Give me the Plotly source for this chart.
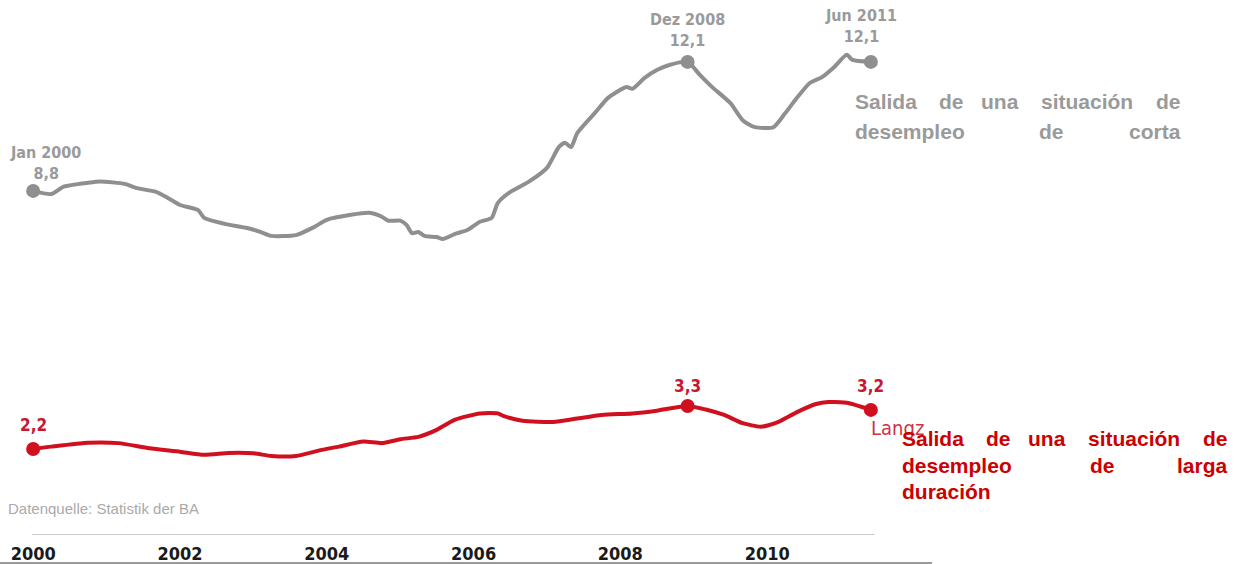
import datetime as dt
import plotly.graph_objects as go

# ---------------- data ----------------
gray_dates = ["2000-01", "2000-04", "2000-06", "2000-10", "2000-12",
              "2001-04", "2001-06", "2001-09", "2001-11",
              "2002-01", "2002-04", "2002-05", "2002-08", "2002-12",
              "2003-02", "2003-04", "2003-08", "2003-11",
              "2004-01", "2004-05", "2004-08", "2004-10", "2004-11",
              "2005-01", "2005-02", "2005-03", "2005-04", "2005-05", "2005-07", "2005-08", "2005-10", "2005-12",
              "2006-02", "2006-04", "2006-05", "2006-07", "2006-10",
              "2007-01", "2007-03", "2007-04", "2007-05", "2007-06", "2007-09", "2007-11",
              "2008-02", "2008-03", "2008-05", "2008-07", "2008-09", "2008-12",
              "2009-02", "2009-04", "2009-07", "2009-09", "2009-11",
              "2010-02", "2010-04", "2010-06", "2010-08", "2010-10", "2010-12",
              "2011-02", "2011-03", "2011-06"]
gray_values = [8.8, 8.72, 8.91, 9.01, 9.04,
               8.98, 8.87, 8.78, 8.62,
               8.44, 8.31, 8.11, 7.97, 7.85,
               7.76, 7.65, 7.67, 7.88,
               8.06, 8.19, 8.24, 8.14, 8.04,
               8.04, 7.93, 7.72, 7.75, 7.65, 7.62, 7.57, 7.70, 7.80,
               8.01, 8.11, 8.49, 8.77, 9.03,
               9.39, 9.92, 10.03, 9.92, 10.28, 10.82, 11.18,
               11.46, 11.41, 11.69, 11.89, 12.02, 12.1,
               11.76, 11.46, 11.05, 10.61, 10.43,
               10.43, 10.79, 11.2, 11.56, 11.71, 11.97,
               12.28, 12.15, 12.1]

red_dates = ["2000-01", "2000-04", "2000-10", "2001-03", "2001-08",
             "2002-01", "2002-05", "2002-09", "2003-01", "2003-04", "2003-08", "2003-12",
             "2004-03", "2004-07", "2004-10", "2005-01", "2005-04", "2005-07", "2005-10",
             "2006-02", "2006-05", "2006-06", "2006-09", "2007-02", "2007-06", "2007-10",
             "2008-03", "2008-07", "2008-12", "2009-03", "2009-06", "2009-09", "2009-12",
             "2010-03", "2010-06", "2010-09", "2010-11", "2011-02", "2011-06"]
red_values = [2.2, 2.26, 2.36, 2.35, 2.22,
              2.13, 2.05, 2.10, 2.09, 2.02, 2.02, 2.17,
              2.26, 2.39, 2.35, 2.45, 2.51, 2.69, 2.95,
              3.11, 3.11, 3.04, 2.92, 2.89, 2.98, 3.07,
              3.11, 3.18, 3.3, 3.21, 3.07, 2.86, 2.77,
              2.90, 3.15, 3.35, 3.40, 3.38, 3.2]

gray_highlight = ["2000-01", "2008-12", "2011-06"]
gray_labels = ["Jan 2000<br>8,8", "Dez 2008<br>12,1", "Jun 2011<br>12,1"]
red_highlight = ["2000-01", "2008-12", "2011-06"]
red_labels = ["2,2", "3,3", "3,2"]

tick_years = [2000, 2002, 2004, 2006, 2008, 2010]
tick_labels = ["2000", "2002", "2004", "2006", "2008", "2010"]

source_text = "Datenquelle: Statistik der BA"
gray_title_lines = [["Salida", "de", "una", "situación", "de"],
                    ["desempleo", "de", "corta"]]
red_title_lines = [["Salida", "de", "una", "situación", "de"],
                   ["desempleo", "de", "larga"],
                   ["duración"]]

# ---------------- style ----------------
W, H = 1239, 564
PLOT_BOTTOM = 535
GRAY_LINE = "#8f8f8f"
GRAY_TEXT = "#9a9a9a"
RED_LINE = "#d0101e"
RED_TEXT = "#cc0000"
LABEL_FONT = "Liberation Sans Narrow, DejaVu Sans Condensed, Liberation Sans, sans-serif"
TEXT_FONT = "Liberation Sans, Arial, sans-serif"


def year_to_date(y):
    year = int(y)
    start = dt.datetime(year, 1, 1)
    end = dt.datetime(year + 1, 1, 1)
    return (start + (end - start) * (y - year)).strftime("%Y-%m-%d")


PX_PER_YEAR = 73.4
X0_PX = 33
x_range = [year_to_date(2000 - X0_PX / PX_PER_YEAR),
           year_to_date(2000 + (W - X0_PX) / PX_PER_YEAR)]
PX_PER_UNIT = 39.1
y_range = [0, PLOT_BOTTOM / PX_PER_UNIT]


def px(x):
    return x / W


def py(y):
    return (PLOT_BOTTOM - y) / PLOT_BOTTOM


def val_at(dates, values, d):
    return values[dates.index(d)]


fig = go.Figure()

fig.add_trace(go.Scatter(x=gray_dates, y=gray_values, mode="lines",
                         line=dict(color=GRAY_LINE, width=4, shape="spline", smoothing=0.6),
                         hoverinfo="skip", showlegend=False))
fig.add_trace(go.Scatter(x=red_dates, y=red_values, mode="lines",
                         line=dict(color=RED_LINE, width=4, shape="spline", smoothing=0.6),
                         hoverinfo="skip", showlegend=False))
fig.add_trace(go.Scatter(x=gray_highlight,
                         y=[val_at(gray_dates, gray_values, d) for d in gray_highlight],
                         mode="markers", marker=dict(color=GRAY_LINE, size=14),
                         hoverinfo="skip", showlegend=False))
fig.add_trace(go.Scatter(x=red_highlight,
                         y=[val_at(red_dates, red_values, d) for d in red_highlight],
                         mode="markers", marker=dict(color=RED_LINE, size=14),
                         hoverinfo="skip", showlegend=False))

annotations = []
# value labels
gray_shifts = [(12, 6), (0, 10), (-10, 14)]
for d, t, (xs, ys) in zip(gray_highlight, gray_labels, gray_shifts):
    annotations.append(dict(x=d, y=val_at(gray_dates, gray_values, d), xref="x", yref="y",
                            text=t, showarrow=False, xanchor="center", yanchor="bottom",
                            xshift=xs, yshift=ys, align="center",
                            font=dict(family=LABEL_FONT, size=16, color=GRAY_TEXT, weight="bold")))
red_shifts = [(0, 12), (0, 8), (0, 12)]
for d, t, (xs, ys) in zip(red_highlight, red_labels, red_shifts):
    annotations.append(dict(x=d, y=val_at(red_dates, red_values, d), xref="x", yref="y",
                            text=t, showarrow=False, xanchor="center", yanchor="bottom",
                            xshift=xs, yshift=ys,
                            font=dict(family=LABEL_FONT, size=17, color="#c8182e", weight="bold")))

# "Langz" fragment
annotations.append(dict(x=px(869), y=py(428), xref="paper", yref="paper", text="Langz",
                        showarrow=False, xanchor="left", yanchor="middle",
                        font=dict(family=LABEL_FONT, size=20, color="#cc3344")))

# source
annotations.append(dict(x=px(6), y=py(508), xref="paper", yref="paper", text=source_text,
                        showarrow=False, xanchor="left", yanchor="middle",
                        font=dict(family=TEXT_FONT, size=15, color="#aaaaaa")))


def justified(lines, left, right, ys, centers, color, size):
    for words, yv, cs in zip(lines, ys, centers):
        for i, w in enumerate(words):
            if i == 0:
                xa, xv = "left", left
            elif i == len(words) - 1:
                xa, xv = "right", right
            else:
                xa, xv = "center", cs[i - 1]
            annotations.append(dict(x=px(xv), y=py(yv), xref="paper", yref="paper", text=w,
                                    showarrow=False, xanchor=xa, yanchor="middle",
                                    font=dict(family=TEXT_FONT, size=size, color=color,
                                              weight="bold")))


justified(gray_title_lines, 853, 1183, [101, 131],
          [[951, 1000, 1087], [1051]], GRAY_TEXT, 21)
justified(red_title_lines, 900, 1230, [438, 465, 491],
          [[998, 1047, 1134], [1102], []], RED_TEXT, 21)

shapes = [
    dict(type="line", xref="x", yref="y", x0="1999-12-25", x1="2011-06-20", y0=0, y1=0,
         line=dict(color="#cccccc", width=2), layer="below"),
    dict(type="line", xref="paper", yref="paper", x0=0, x1=px(932),
         y0=py(563), y1=py(563), line=dict(color="#777777", width=1.5)),
]

fig.update_layout(
    width=W, height=H, autosize=False,
    margin=dict(l=0, r=0, t=0, b=H - PLOT_BOTTOM, pad=0),
    paper_bgcolor="white", plot_bgcolor="white",
    showlegend=False,
    xaxis=dict(type="date", range=x_range, showgrid=False, zeroline=False, showline=False,
               tickvals=[f"{y}-01-01" for y in tick_years], ticktext=tick_labels,
               ticks="", automargin=False, ticklabelstandoff=6,
               tickfont=dict(family=LABEL_FONT, size=18, color="#1a1a1a", weight="bold")),
    yaxis=dict(range=y_range, visible=False, fixedrange=True),
    annotations=annotations,
    shapes=shapes,
)

fig.write_html("out.html", config={"displayModeBar": False},
               post_script="document.body.style.margin='0';document.body.style.overflow='hidden';")
